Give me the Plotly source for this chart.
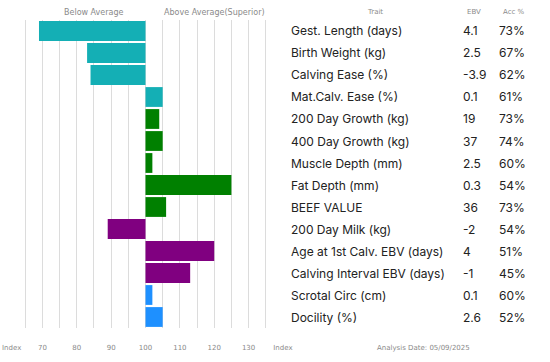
import plotly.graph_objects as go

traits = ["Gest. Length (days)", "Birth Weight (kg)", "Calving Ease (%)", "Mat.Calv. Ease (%)",
          "200 Day Growth (kg)", "400 Day Growth (kg)", "Muscle Depth (mm)", "Fat Depth (mm)",
          "BEEF VALUE", "200 Day Milk (kg)", "Age at 1st Calv. EBV (days)",
          "Calving Interval EBV (days)", "Scrotal Circ (cm)", "Docility (%)"]
index_values = [69, 83, 84, 105, 104, 105, 102, 125, 106, 89, 120, 113, 102, 105]
ebv = ["4.1", "2.5", "-3.9", "0.1", "19", "37", "2.5", "0.3", "36", "-2", "4", "-1", "0.1", "2.6"]
acc = ["73%", "67%", "62%", "61%", "73%", "74%", "60%", "54%", "73%", "54%", "51%", "45%", "60%", "52%"]
groups = ["calving"] * 4 + ["growth"] * 5 + ["maternal"] * 3 + ["fertility"] * 2
group_colors = {"calving": "#14AFB5", "growth": "#008000", "maternal": "#800080", "fertility": "#1E90FF"}
tick_vals = [60, 65, 70, 75, 80, 85, 90, 95, 100, 105, 110, 115, 120, 125, 130, 135, 140]
tick_text = ["", "", "70", "", "80", "", "90", "", "100", "", "110", "", "120", "", "130", "", "Index"]
left_axis_label = "Index"
baseline = 100
analysis_date = "Analysis Date: 05/09/2025"

W, H = 550, 362


def px(x):
    return x / W


def py(y):
    return 1 - y / H


x0, x1 = 8, 283
y_top, y_bot = 20, 328

fig = go.Figure()
fig.add_trace(go.Bar(
    y=traits,
    x=[v - baseline for v in index_values],
    base=baseline,
    orientation="h",
    marker=dict(color=[group_colors[g] for g in groups], line=dict(width=0)),
    hoverinfo="skip",
))

gray = "#8a8a8a"
hf = dict(family="DejaVu Sans", size=8, color=gray)
sf = dict(family="DejaVu Sans", size=7, color=gray)
ann = []
for text, x, y, f in [("Below Average", 94, 13, hf), ("Above Average(Superior)", 214, 13, hf),
                      ("Trait", 375, 12, sf), ("EBV", 474, 12, sf), ("Acc %", 514, 12, sf),
                      (analysis_date, 423, 348, sf)]:
    ann.append(dict(text=text, x=px(x), y=py(y), xref="paper", yref="paper",
                    xanchor="center", yanchor="middle", showarrow=False, font=f))
ann.append(dict(text=left_axis_label, x=0, y=py(348), xref="paper", yref="paper",
                xanchor="left", yanchor="middle", showarrow=False, font=sf))

tf = dict(family="Inter", size=12, color="#222222")
for t, e, a in zip(traits, ebv, acc):
    for text, x in [(t, 289), (e, 461), (a, 497)]:
        ann.append(dict(text=text, x=px(x), y=t, xref="paper", yref="y", xanchor="left",
                        yanchor="middle", showarrow=False, font=tf))

fig.update_layout(
    width=W, height=H,
    margin=dict(l=0, r=0, t=0, b=0),
    paper_bgcolor="white", plot_bgcolor="white",
    showlegend=False,
    bargap=0.1,
    annotations=ann,
    xaxis=dict(domain=[px(x0), px(x1)], range=[59.98, 140.02], tickmode="array",
               tickvals=tick_vals, ticktext=tick_text, showgrid=True, gridcolor="#dcdcdc",
               gridwidth=1, zeroline=False, showline=False, ticks="", automargin=False,
               ticklabeloverflow="allow", fixedrange=True,
               tickfont=dict(family="DejaVu Sans", size=7, color=gray), ticklabelstandoff=14),
    yaxis=dict(domain=[py(y_bot), py(y_top)], autorange=False, fixedrange=True,
               range=[len(traits) - 0.5, -0.5], showticklabels=False, showgrid=False,
               zeroline=False, showline=False, ticks="", automargin=False),
)

fig.write_html("out.html", config={"displayModeBar": False},
               post_script="document.body.style.margin='0';")
